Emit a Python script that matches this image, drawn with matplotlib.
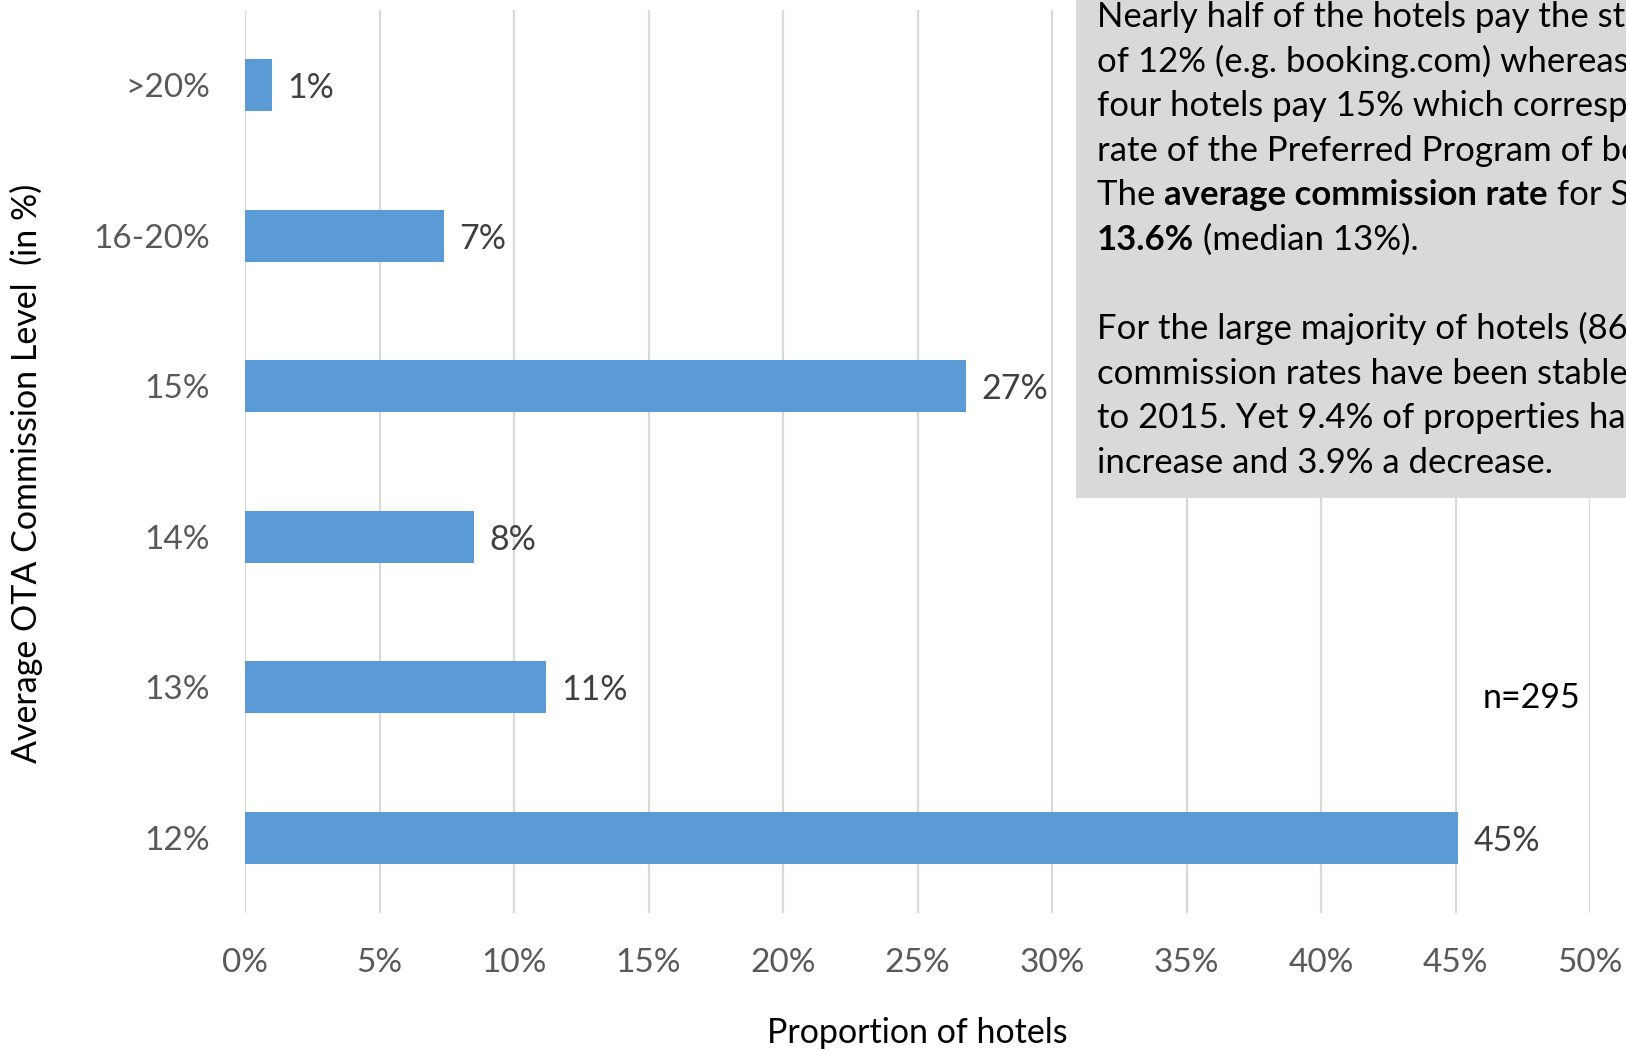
import matplotlib.pyplot as plt
from matplotlib.patches import Rectangle
from matplotlib.transforms import IdentityTransform
from matplotlib.ticker import FuncFormatter

plt.rcParams['font.family'] = ['Lato', 'DejaVu Sans']

categories = ['12%', '13%', '14%', '15%', '16-20%', '>20%']
shares = [45.1, 11.2, 8.5, 26.8, 7.4, 1.0]
bar_labels = ['45%', '11%', '8%', '27%', '7%', '1%']

note_lines = [
    [('Nearly half of the hotels pay the standard rate', 'normal')],
    [('of 12% (e.g. booking.com) whereas one in', 'normal')],
    [('four hotels pay 15% which corresponds to the', 'normal')],
    [('rate of the Preferred Program of booking.com.', 'normal')],
    [('The ', 'normal'), ('average commission rate', 'bold'), (' for Switzerland is', 'normal')],
    [('13.6%', 'bold'), (' (median 13%).', 'normal')],
    [],
    [('For the large majority of hotels (86.7%),', 'normal')],
    [('commission rates have been stable from 2014', 'normal')],
    [('to 2015. Yet 9.4% of properties have seen an', 'normal')],
    [('increase and 3.9% a decrease.', 'normal')],
]

W, H = 1626, 1051
fig = plt.figure(figsize=(W / 100, H / 100), dpi=100)
ax = fig.add_axes([245 / W, 1 - 913 / H, (1590 - 245) / W, (913 - 10) / H])

y = range(len(categories))
bars = ax.barh(y, shares, height=0.345, color='#5B9BD5', zorder=3)
for b, lab in zip(bars, bar_labels):
    ax.annotate(lab, (b.get_width(), b.get_y() + b.get_height() / 2),
                xytext=(11, 0), textcoords='offset points', va='center_baseline', ha='left',
                fontsize=24.5, color='#404040')

ax.set_xlim(0, 50)
ax.set_ylim(-0.5, len(categories) - 0.5)
ax.set_xticks(range(0, 51, 5))
ax.xaxis.set_major_formatter(FuncFormatter(lambda v, p: f'{v:.0f}%'))
ax.set_yticks(list(y))
ax.set_yticklabels(categories)
ax.tick_params(length=0, labelsize=24, labelcolor='#595959')
ax.tick_params(axis='y', pad=25)
ax.tick_params(axis='x', pad=25)
ax.grid(axis='x', color='#D9D9D9', linewidth=1.6, zorder=0)
for s in ax.spines.values():
    s.set_visible(False)

ax.set_xlabel('Proportion of hotels', fontsize=24.5, color='black', labelpad=28)
fig.text(26 / W, 1 - 473 / H, 'Average OTA Commission Level  (in %)', rotation=90,
         ha='center', va='center', fontsize=24.5, color='black')

fig.text(1483 / W, 1 - 698 / H, 'n=295', ha='left', va='center', fontsize=24.5, color='black')

# grey note box in the upper right
fig.patches.append(Rectangle((1076, H - 498), W - 1076, 498, transform=IdentityTransform(),
                             facecolor='#D9D9D9', edgecolor='none', zorder=2))
fig.canvas.draw()
renderer = fig.canvas.get_renderer()
x0, base0, step = 1097, H - 27, 44.6
for i, line in enumerate(note_lines):
    x = x0
    for txt, weight in line:
        t = fig.text(x, base0 - i * step, txt, transform=IdentityTransform(), ha='left',
                     va='baseline', fontsize=25, fontweight=weight, color='black', zorder=3)
        x = t.get_window_extent(renderer).x1

fig.savefig('out.png', dpi=100)
